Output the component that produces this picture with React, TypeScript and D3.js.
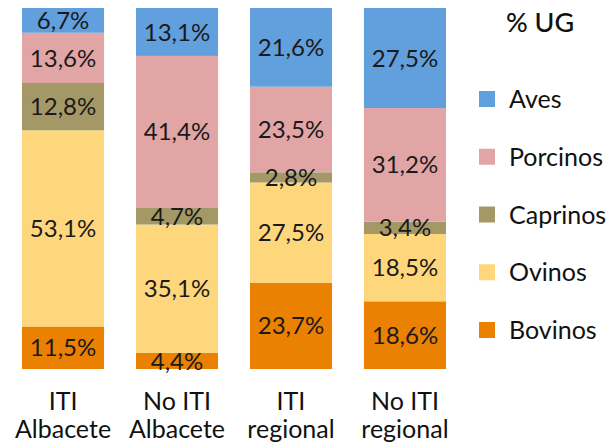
import React from "react";
import * as d3 from "d3";

const categories = [
  ["ITI", "Albacete"],
  ["No ITI", "Albacete"],
  ["ITI", "regional"],
  ["No ITI", "regional"],
];
const seriesNames = ["Bovinos", "Ovinos", "Caprinos", "Porcinos", "Aves"];
const bovinos = [11.5, 4.4, 23.7, 18.6];
const ovinos = [53.1, 35.1, 27.5, 18.5];
const caprinos = [12.8, 4.7, 2.8, 3.4];
const porcinos = [13.6, 41.4, 23.5, 31.2];
const aves = [6.7, 13.1, 21.6, 27.5];
const colors = ["#EA8103", "#FED77D", "#A49966", "#E2A5A6", "#629FDD"];
const legendOrder = ["Aves", "Porcinos", "Caprinos", "Ovinos", "Bovinos"];

const W = 612;
const H = 443;
const font = "Lato, 'Open Sans', sans-serif";

const App = () => {
  const values = [bovinos, ovinos, caprinos, porcinos, aves];
  const rows = categories.map((c, i) => {
    const r: any = { key: i };
    seriesNames.forEach((s, j) => (r[s] = values[j][i]));
    return r;
  });
  const stack = d3.stack<any>().keys(seriesNames).offset(d3.stackOffsetExpand);
  const layers = stack(rows);

  const x = d3.scaleBand<number>().domain([0, 1, 2, 3]).range([22, 446]).paddingInner(0.28).paddingOuter(0);
  const y = d3.scaleLinear().domain([0, 1]).range([369, 8]);
  const color = d3.scaleOrdinal<string, string>().domain(seriesNames).range(colors);
  const legendY = d3.scalePoint<string>().domain(legendOrder).range([99, 330]);

  const fmt = (v: number) => v.toFixed(1).replace(".", ",") + "%";

  return (
    <svg width={W} height={H} style={{ position: "absolute", left: 0, top: 0 }}>
      <rect width={W} height={H} fill="#fff" />
      {layers.map((layer) => (
        <g key={layer.key}>
          {layer.map((d, i) => (
            <rect
              key={i}
              x={x(i)}
              y={y(d[1])}
              width={x.bandwidth()}
              height={y(d[0]) - y(d[1])}
              fill={color(layer.key)}
            />
          ))}
        </g>
      ))}
      {layers.map((layer, li) => (
        <g key={"t" + layer.key}>
          {layer.map((d, i) => (
            <text
              key={i}
              x={(x(i) as number) + x.bandwidth() / 2}
              y={(y(d[0]) + y(d[1])) / 2}
              dy="0.36em"
              textAnchor="middle"
              fontFamily={font}
              fontSize={24}
              fill="#1a1a1a"
            >
              {fmt(values[li][i])}
            </text>
          ))}
        </g>
      ))}
      {categories.map((c, i) => (
        <text
          key={i}
          textAnchor="middle"
          fontFamily={font}
          fontSize={25}
          fill="#111"
        >
          <tspan x={(x(i) as number) + x.bandwidth() / 2} y={410}>{c[0]}</tspan>
          <tspan x={(x(i) as number) + x.bandwidth() / 2} y={438}>{c[1]}</tspan>
        </text>
      ))}
      <text x={540} y={32} textAnchor="middle" fontFamily={font} fontSize={27} fontWeight={500} fill="#111">
        % UG
      </text>
      {legendOrder.map((s) => (
        <g key={s}>
          <rect x={479} y={(legendY(s) as number) - 8} width={16} height={16} fill={color(s)} />
          <text x={509} y={legendY(s) as number} dy="0.36em" fontFamily={font} fontSize={25} fill="#111">
            {s}
          </text>
        </g>
      ))}
    </svg>
  );
};

export default App;
